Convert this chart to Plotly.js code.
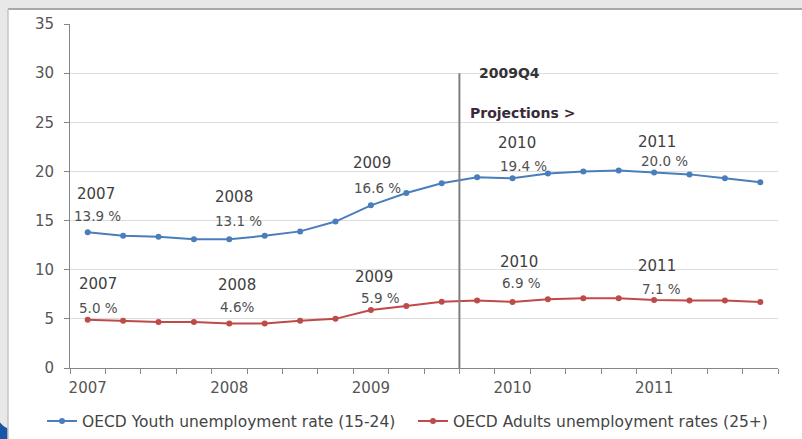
<!DOCTYPE html>
<html>
<head>
<meta charset="utf-8">
<script src="https://cdn.plot.ly/plotly-3.0.1.min.js"></script>
<style>html,body{margin:0;padding:0;background:#e8e8e8;}#chart{width:802px;height:439px;}</style>
</head>
<body>
<div id="chart"></div>
<script>
var quarters = ['2007Q1','2007Q2','2007Q3','2007Q4','2008Q1','2008Q2','2008Q3','2008Q4','2009Q1','2009Q2','2009Q3','2009Q4','2010Q1','2010Q2','2010Q3','2010Q4','2011Q1','2011Q2','2011Q3','2011Q4'];
var tickText = ['2007','','','','2008','','','','2009','','','','2010','','','','2011','','',''];
var youth = [13.8, 13.45, 13.35, 13.1, 13.1, 13.45, 13.9, 14.9, 16.55, 17.8, 18.8, 19.4, 19.3, 19.8, 20.0, 20.1, 19.9, 19.7, 19.3, 18.9];
var adults = [4.9, 4.8, 4.67, 4.67, 4.52, 4.52, 4.8, 5.0, 5.9, 6.3, 6.75, 6.86, 6.72, 7.0, 7.1, 7.1, 6.93, 6.86, 6.86, 6.72];
var seriesNames = ['OECD Youth unemployment rate (15-24)', 'OECD Adults unemployment rates (25+)'];
var yearLabels = ['2007','2008','2009','2010','2011'];
var youthLabels = ['13.9 %','13.1 %','16.6 %','19.4 %','20.0 %'];
var adultLabels = ['5.0 %','4.6%','5.9 %','6.9 %','7.1 %'];

var blue = '#4a7ebb', red = '#be4b48';
var traces = [
  {x: quarters, y: youth, name: seriesNames[0], type: 'scatter', mode: 'lines+markers',
   line: {color: blue, width: 2}, marker: {color: blue, size: 6}, legend: 'legend'},
  {x: quarters, y: adults, name: seriesNames[1], type: 'scatter', mode: 'lines+markers',
   line: {color: red, width: 2}, marker: {color: red, size: 6}, legend: 'legend2'}
];

var FAM = 'DejaVu Sans, Verdana, sans-serif';
var yearFont = {family: FAM, size: 15, color: '#404040'};
var pctFont = {family: FAM, size: 13.5, color: '#505050'};
var ann = [];
var yPos = [[17.7,15.45],[17.4,15.0],[20.9,18.3],[22.85,20.6],[22.95,21.1]];
var xPos = [[0.23,0.28],[4.12,4.26],[8.04,8.2],[12.13,12.3],[16.08,16.3]];
var aYPos = [[8.55,6.1],[8.45,6.2],[9.25,7.1],[10.8,8.65],[10.4,8.05]];
var aXPos = [[0.28,0.31],[4.23,4.23],[8.1,8.26],[12.19,12.24],[16.08,16.2]];
for (var i = 0; i < yearLabels.length; i++) {
  ann.push({x: xPos[i][0], y: yPos[i][0], text: yearLabels[i], showarrow: false, font: yearFont});
  ann.push({x: xPos[i][1], y: yPos[i][1], text: youthLabels[i], showarrow: false, font: pctFont});
  ann.push({x: aXPos[i][0], y: aYPos[i][0], text: yearLabels[i], showarrow: false, font: yearFont});
  ann.push({x: aXPos[i][1], y: aYPos[i][1], text: adultLabels[i], showarrow: false, font: pctFont});
}
ann.push({x: 11.0, y: 30.0, xanchor: 'left', text: '<b>2009Q4</b>', showarrow: false,
  font: {family: FAM, size: 14, color: '#333'}});
ann.push({x: 10.75, y: 25.9, xanchor: 'left', text: '<b>Projections ></b>', showarrow: false,
  font: {family: FAM, size: 14, color: '#3a2a3a'}});

var legFont = {size: 15.5, color: '#444'};
var layout = {
  width: 802, height: 439,
  margin: {l: 70, r: 24, t: 24, b: 71},
  paper_bgcolor: '#e8e8e8', plot_bgcolor: '#ffffff',
  font: {family: FAM, size: 13, color: '#555'},
  showlegend: true,
  legend: {orientation: 'h', xref: 'container', yref: 'container', x: 42/802, xanchor: 'left',
    y: 0.04, yanchor: 'middle', font: legFont, bgcolor: 'rgba(0,0,0,0)'},
  legend2: {orientation: 'h', xref: 'container', yref: 'container', x: 413/802, xanchor: 'left',
    y: 0.04, yanchor: 'middle', font: legFont, bgcolor: 'rgba(0,0,0,0)'},
  xaxis: {type: 'category', categoryorder: 'array', categoryarray: quarters,
    range: [-0.5, 19.5], tickmode: 'array', tickvals: quarters, ticktext: tickText,
    tickson: 'boundaries', ticks: 'outside', ticklen: 5, tickcolor: '#868686', tickangle: 0,
    ticklabelstandoff: 6,
    showline: true, linecolor: '#868686', linewidth: 1, showgrid: false, zeroline: false,
    automargin: false, tickfont: {size: 15, color: '#555'}, fixedrange: true},
  yaxis: {range: [0, 35], tickvals: [0,5,10,15,20,25,30,35], ticks: 'outside', ticklen: 5,
    tickcolor: '#868686', showline: true, linecolor: '#868686', linewidth: 1,
    ticklabelstandoff: 7,
    gridcolor: '#dcdcdc', gridwidth: 1, zeroline: false, automargin: false,
    tickfont: {size: 15, color: '#555'}, fixedrange: true},
  shapes: [
    {type: 'rect', xref: 'paper', yref: 'paper', x0: -0.0876, x1: 1.04, y0: -0.22, y1: 1.0436,
     fillcolor: '#ffffff', line: {width: 0}, layer: 'below'},
    {type: 'line', xref: 'paper', yref: 'paper', x0: -0.0876, x1: 1.04, y0: 1.0436, y1: 1.0436,
     line: {color: '#a8a8a8', width: 2}, layer: 'below'},
    {type: 'line', xref: 'paper', yref: 'paper', x0: -0.0876, x1: -0.0876, y0: -0.22, y1: 1.0436,
     line: {color: '#c4c4c4', width: 1.5}, layer: 'below'},
    {type: 'path', xref: 'paper', yref: 'paper',
     path: 'M -0.1 -0.22 L -0.1 -0.155 Q -0.095 -0.17 -0.0886 -0.175 L -0.0886 -0.22 Z',
     fillcolor: '#1a56a6', line: {width: 0}, layer: 'above'},
    {type: 'line', xref: 'x', yref: 'y', x0: 10.5, x1: 10.5, y0: 0, y1: 30,
     line: {color: '#808080', width: 2}}
  ],
  annotations: ann
};
Plotly.newPlot('chart', traces, layout, {displayModeBar: false, staticPlot: true});
</script>
</body>
</html>
